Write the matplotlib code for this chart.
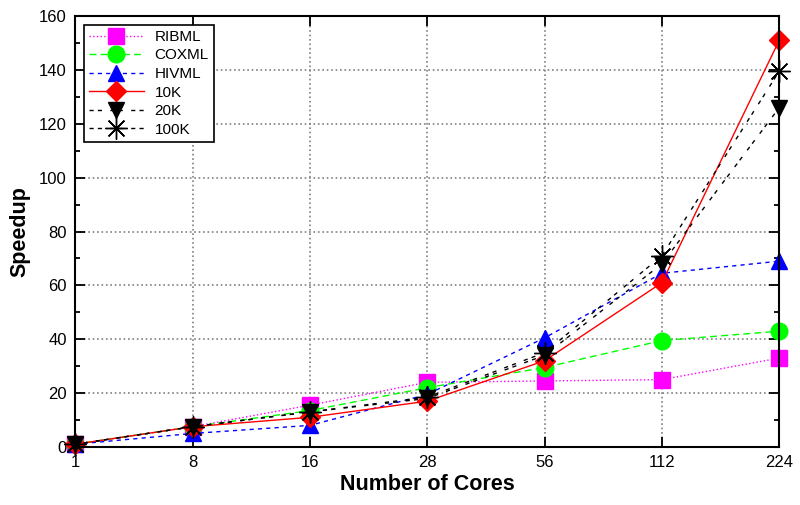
import numpy as np
import matplotlib.pyplot as plt
from matplotlib.ticker import MultipleLocator

plt.rcParams['font.family'] = ['Liberation Sans', 'DejaVu Sans']

# Data
cores = ["1", "8", "16", "28", "56", "112", "224"]
ribml = [1, 7.5, 15.5, 24, 24.5, 25, 33]
coxml = [1, 7.5, 13.5, 22, 29.5, 39.5, 43]
hivml = [1, 5, 8, 19.5, 40.5, 64.5, 69]
k10 = [1, 7.5, 11, 17, 32, 61, 151]
k20 = [1, 7.5, 13, 18, 34, 68, 126]
k100 = [1, 7.5, 13, 18.5, 35, 71, 139.5]

x = np.arange(len(cores))

fig = plt.figure(figsize=(8, 5.05), dpi=100)
ax = fig.add_axes([0.094, 0.115, 0.88, 0.853])

ax.plot(x, ribml, color='magenta', linestyle=':', lw=1, marker='s', ms=12,
        clip_on=False, label='RIBML')
ax.plot(x, coxml, color='lime', linestyle=(0, (5, 3)), lw=1, marker='o', ms=12,
        clip_on=False, label='COXML')
ax.plot(x, hivml, color='blue', linestyle=(0, (3, 3)), lw=1, marker='^', ms=12,
        clip_on=False, label='HIVML')
ax.plot(x, k10, color='red', linestyle='-', lw=1, marker='D', ms=10,
        clip_on=False, label='10K')
ax.plot(x, k20, color='black', linestyle=(0, (3, 3, 3, 6)), lw=1, marker='v', ms=12,
        clip_on=False, label='20K')
ax.plot(x, k100, color='black', linestyle=(0, (3, 3, 3, 6)), lw=1, marker=(8, 2, 0), ms=16,
        mew=1, clip_on=False, label='100K')

ax.set_xlim(0, len(cores) - 1)
ax.set_ylim(0, 160)
ax.set_xticks(x)
ax.set_xticklabels(cores)
ax.yaxis.set_major_locator(MultipleLocator(20))
ax.yaxis.set_minor_locator(MultipleLocator(10))
ax.tick_params(direction='in', which='both', top=True, right=True, labelsize=12)
ax.tick_params(which='major', length=7, width=1.3, pad=6)
ax.tick_params(which='minor', length=3.5, width=1.3)
ax.grid(True, linestyle=':', color='gray', lw=1.2)
for s in ax.spines.values():
    s.set_linewidth(1.5)

ax.set_xlabel("Number of Cores", fontsize=15.5, fontweight='bold', labelpad=3)
ax.set_ylabel("Speedup", fontsize=15.5, fontweight='bold', labelpad=6)

leg = ax.legend(loc='upper left', fontsize=11, handlelength=3.6, fancybox=False,
                framealpha=1, edgecolor='black', borderaxespad=0.55, labelspacing=0.3,
                handletextpad=0.7, borderpad=0.35)
leg.get_frame().set_linewidth(1.2)

plt.savefig("out.png")
